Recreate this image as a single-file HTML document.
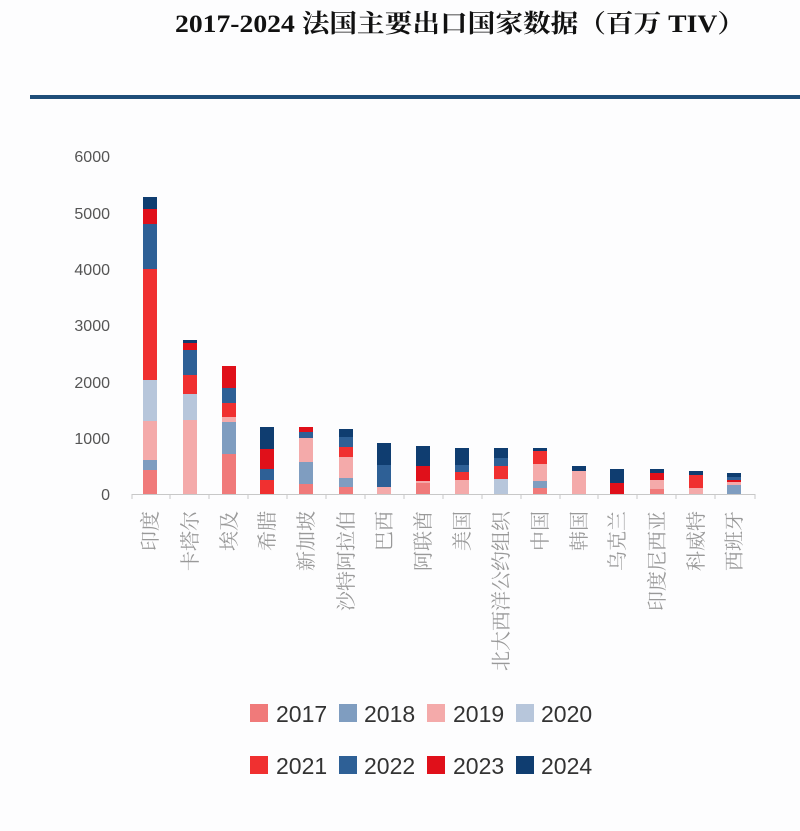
<!DOCTYPE html>
<html><head><meta charset="utf-8"><style>
body{margin:0;background:#fff;}
svg{display:block;}
</style></head><body>
<svg width="800" height="831" viewBox="0 0 800 831" xmlns="http://www.w3.org/2000/svg" font-family="'Liberation Sans','Noto Sans CJK SC',sans-serif">
<rect width="800" height="831" fill="#fdfdfe"/>
<text x="175" y="32" font-family="'Liberation Serif','Noto Serif CJK SC',serif" font-weight="bold" font-size="25" fill="#111" textLength="570" lengthAdjust="spacingAndGlyphs">2017-2024 法国主要出口国家数据（百万 TIV）</text>
<rect x="30" y="95" width="770" height="4" fill="#1f4e79"/>
<g font-size="16" fill="#555" text-anchor="end">
<text x="110" y="500">0</text><text x="110" y="444">1000</text><text x="110" y="388">2000</text><text x="110" y="331">3000</text><text x="110" y="275">4000</text><text x="110" y="219">5000</text><text x="110" y="162">6000</text>
</g>
<line x1="132" y1="494.5" x2="755" y2="494.5" stroke="#c8c8c8"/>
<g stroke="#c8c8c8">
<line x1="132" y1="494" x2="132" y2="499"/><line x1="170" y1="494" x2="170" y2="499"/><line x1="209" y1="494" x2="209" y2="499"/><line x1="248" y1="494" x2="248" y2="499"/><line x1="287" y1="494" x2="287" y2="499"/><line x1="326" y1="494" x2="326" y2="499"/><line x1="365" y1="494" x2="365" y2="499"/><line x1="404" y1="494" x2="404" y2="499"/><line x1="443" y1="494" x2="443" y2="499"/><line x1="482" y1="494" x2="482" y2="499"/><line x1="521" y1="494" x2="521" y2="499"/><line x1="560" y1="494" x2="560" y2="499"/><line x1="598" y1="494" x2="598" y2="499"/><line x1="637" y1="494" x2="637" y2="499"/><line x1="676" y1="494" x2="676" y2="499"/><line x1="715" y1="494" x2="715" y2="499"/><line x1="755" y1="494" x2="755" y2="499"/>
</g>
<g id="bars"></g>
<g id="xl" font-size="20" fill="#999" font-family="'Liberation Serif','Noto Serif CJK SC',serif" text-anchor="end"></g>
<g font-size="23" fill="#333">
<rect x="250" y="704" width="18" height="18" fill="#f07a7a"/><text x="276" y="722">2017</text>
<rect x="339" y="704" width="18" height="18" fill="#7f9dc0"/><text x="364" y="722">2018</text>
<rect x="427" y="704" width="18" height="18" fill="#f4aaaa"/><text x="453" y="722">2019</text>
<rect x="516" y="704" width="18" height="18" fill="#b7c6db"/><text x="541" y="722">2020</text>
<rect x="250" y="756" width="18" height="18" fill="#f03030"/><text x="276" y="774">2021</text>
<rect x="339" y="756" width="18" height="18" fill="#2e6096"/><text x="364" y="774">2022</text>
<rect x="427" y="756" width="18" height="18" fill="#e0101a"/><text x="453" y="774">2023</text>
<rect x="516" y="756" width="18" height="18" fill="#0f3d70"/><text x="541" y="774">2024</text>
</g>
</svg>
<script>
var C={17:"#f07a7a",18:"#7f9dc0",19:"#f4aaaa",20:"#b7c6db",21:"#f03030",22:"#2e6096",23:"#e0101a",24:"#0f3d70"};
var D=[
["印度",150,[[17,470],[18,460],[19,421],[20,380],[21,269],[22,224],[23,209],[24,197]]],
["卡塔尔",190,[[19,420],[20,394],[21,375],[22,350],[23,343],[24,340]]],
["埃及",229,[[17,454],[18,422],[19,417],[21,403],[22,388],[23,366]]],
["希腊",267,[[21,480],[22,469],[23,449],[24,427]]],
["新加坡",306,[[17,484],[18,462],[19,438],[22,432],[23,427]]],
["沙特阿拉伯",346,[[17,487],[18,478],[19,457],[21,447],[22,437],[24,429]]],
["巴西",384,[[19,487],[22,465],[24,443]]],
["阿联酋",423,[[17,483],[19,481],[23,466],[24,446]]],
["美国",462,[[19,480],[21,472],[22,465],[24,448]]],
["北大西洋公约组织",501,[[20,479],[21,466],[22,458],[24,448]]],
["中国",540,[[17,488],[18,481],[19,464],[21,451],[24,448]]],
["韩国",579,[[19,471],[24,466]]],
["乌克兰",617,[[23,483],[24,469]]],
["印度尼西亚",657,[[17,489],[19,480],[23,473],[24,469]]],
["科威特",696,[[19,488],[21,475],[24,471]]],
["西班牙",734,[[18,485],[19,482],[23,480],[22,477],[24,473]]]];
var ns="http://www.w3.org/2000/svg",b=document.getElementById("bars"),xl=document.getElementById("xl");
D.forEach(function(d){var prev=494;d[2].forEach(function(s){var r=document.createElementNS(ns,"rect");r.setAttribute("x",d[1]-7);r.setAttribute("width",14);r.setAttribute("y",s[1]);r.setAttribute("height",prev-s[1]);r.setAttribute("fill",C[s[0]]);b.appendChild(r);prev=s[1];});
var t=document.createElementNS(ns,"text");t.setAttribute("transform","translate("+(d[1]+7)+",511) rotate(-90)");t.textContent=d[0];xl.appendChild(t);});
</script>
</body></html>
